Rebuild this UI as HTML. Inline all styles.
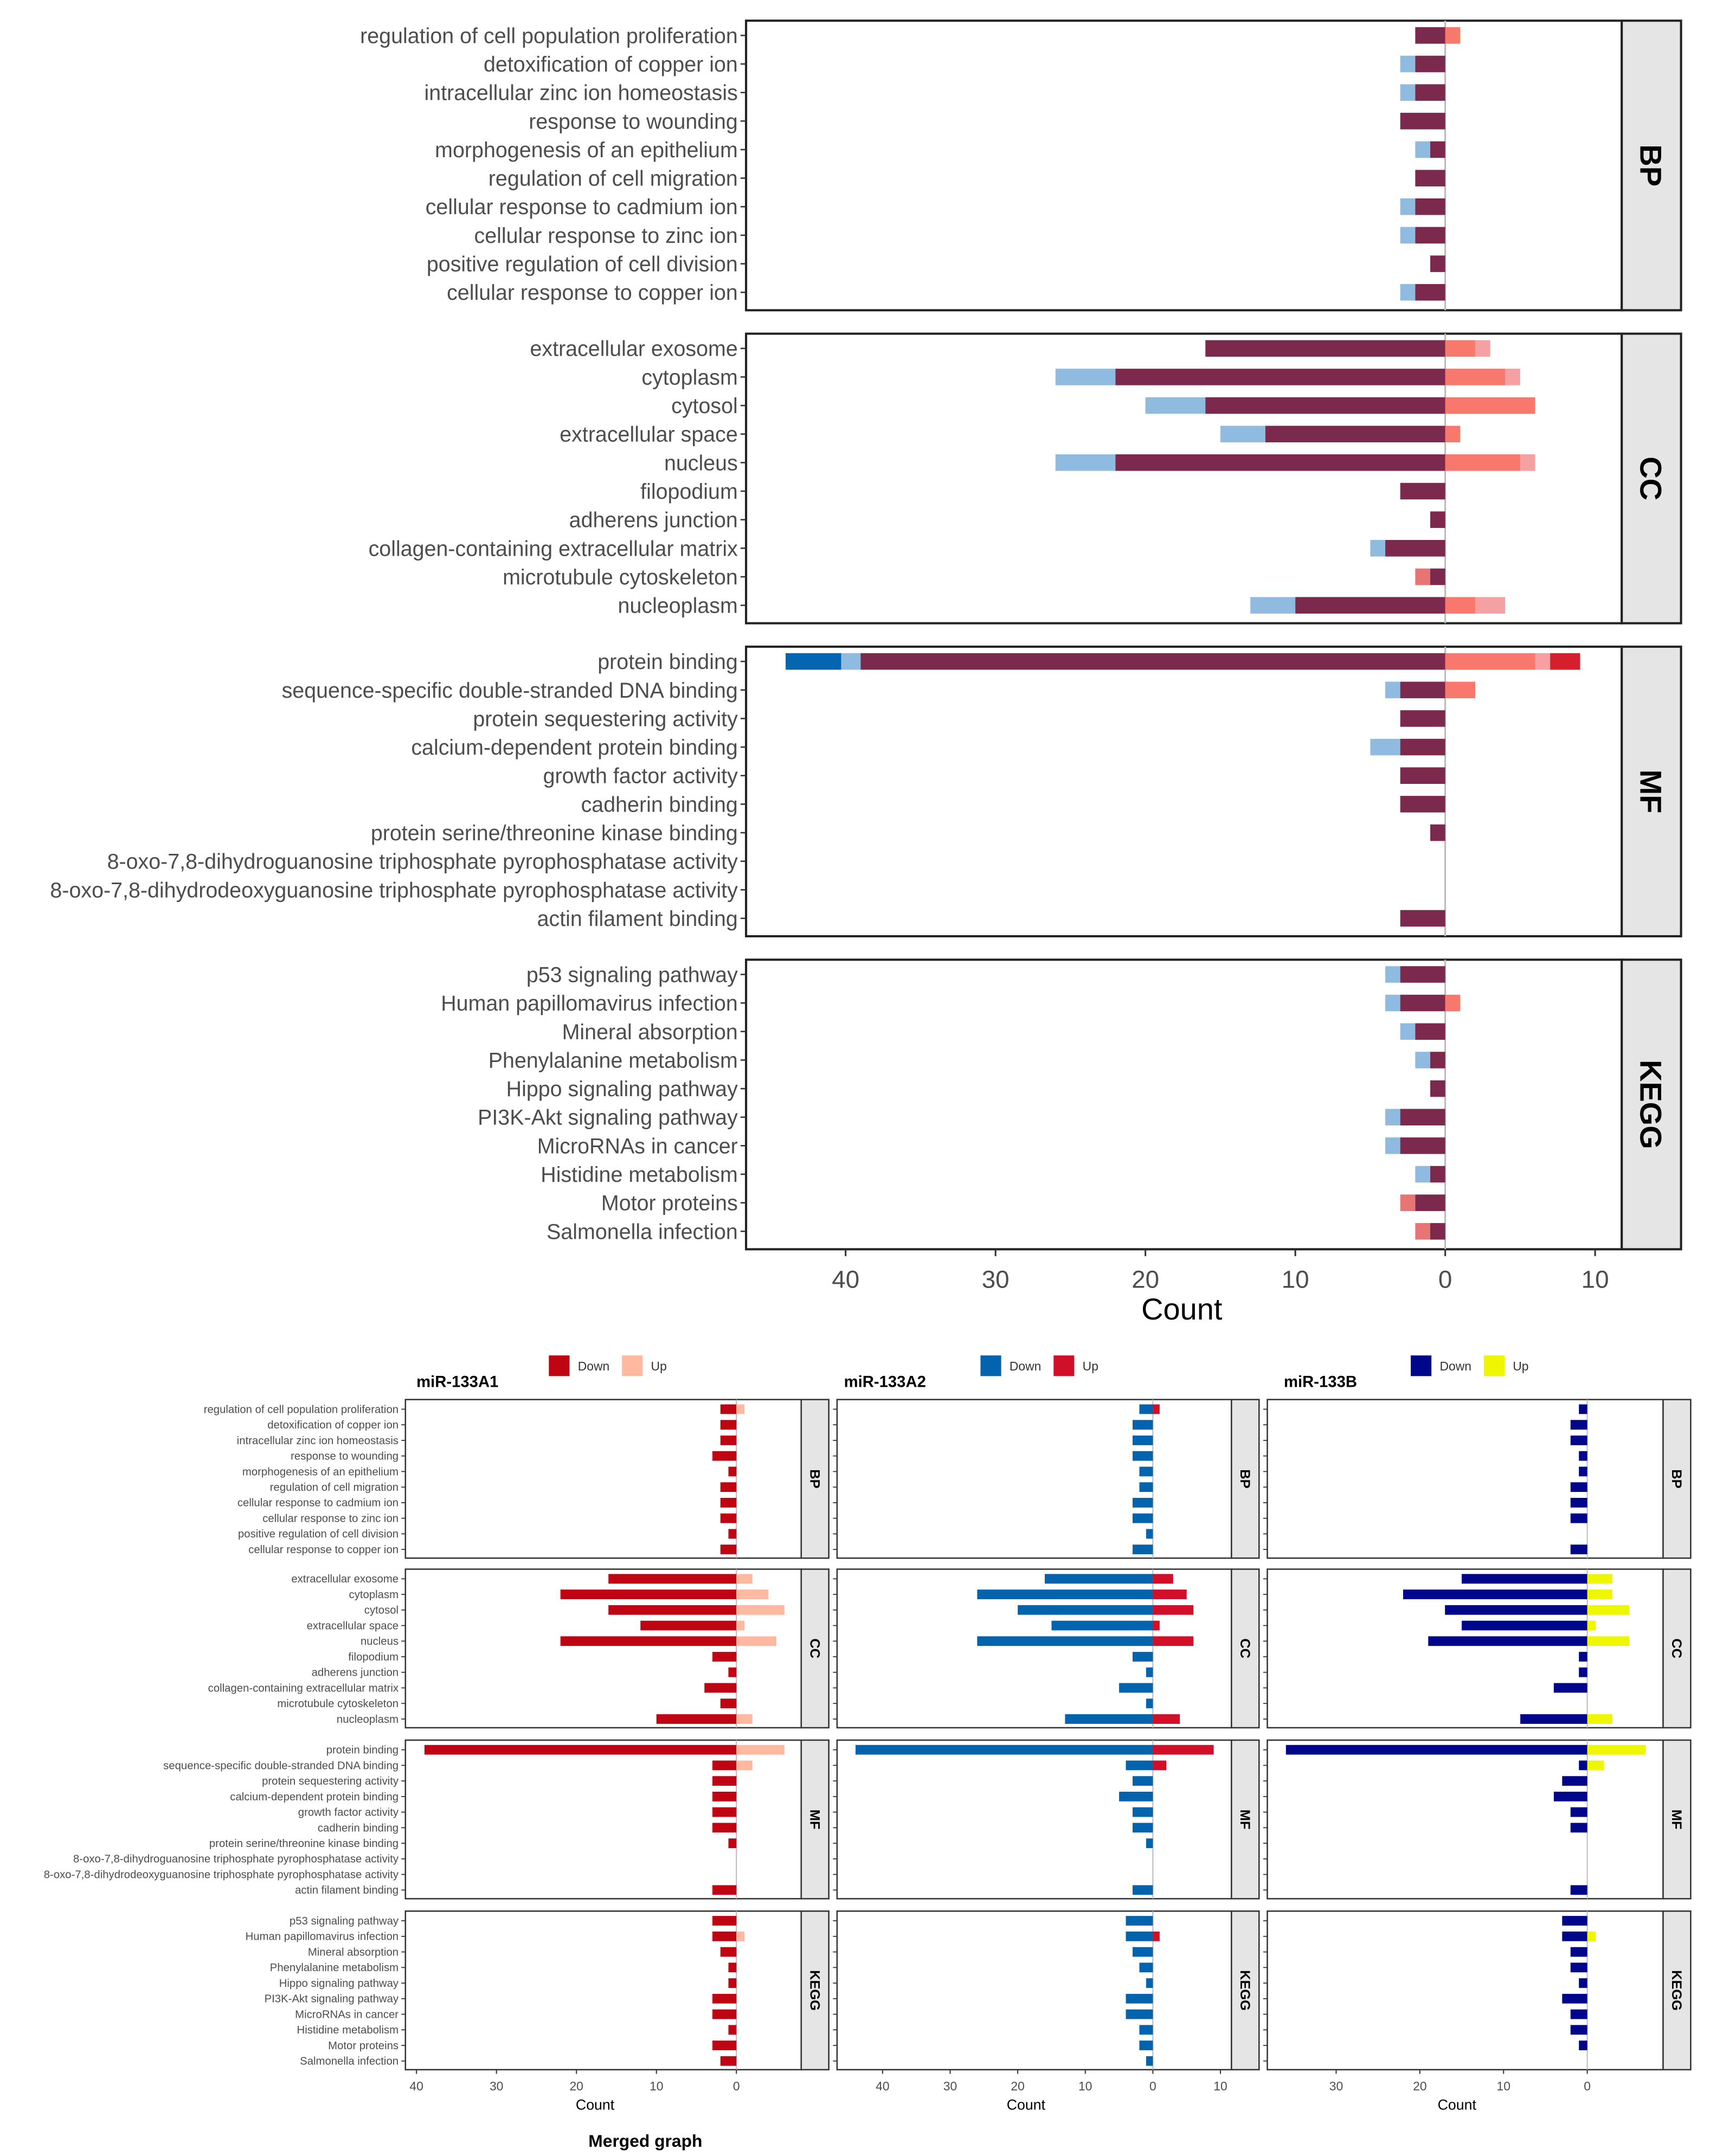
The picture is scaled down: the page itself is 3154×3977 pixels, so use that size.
<!DOCTYPE html>
<html><head><meta charset="utf-8"><style>html,body{margin:0;padding:0;background:#fff}svg{display:block}</style></head>
<body>
<svg id="chart" xmlns="http://www.w3.org/2000/svg" width="3154" height="3977" viewBox="0 0 1240 1563.6" preserveAspectRatio="none" font-family="Liberation Sans, sans-serif"></svg>
<script>
const groups = ["BP","CC","MF","KEGG"];
const categories = [
 "regulation of cell population proliferation","detoxification of copper ion","intracellular zinc ion homeostasis","response to wounding","morphogenesis of an epithelium","regulation of cell migration","cellular response to cadmium ion","cellular response to zinc ion","positive regulation of cell division","cellular response to copper ion",
 "extracellular exosome","cytoplasm","cytosol","extracellular space","nucleus","filopodium","adherens junction","collagen-containing extracellular matrix","microtubule cytoskeleton","nucleoplasm",
 "protein binding","sequence-specific double-stranded DNA binding","protein sequestering activity","calcium-dependent protein binding","growth factor activity","cadherin binding","protein serine/threonine kinase binding","8-oxo-7,8-dihydroguanosine triphosphate pyrophosphatase activity","8-oxo-7,8-dihydrodeoxyguanosine triphosphate pyrophosphatase activity","actin filament binding",
 "p53 signaling pathway","Human papillomavirus infection","Mineral absorption","Phenylalanine metabolism","Hippo signaling pathway","PI3K-Akt signaling pathway","MicroRNAs in cancer","Histidine metabolism","Motor proteins","Salmonella infection"];
const a1Down = [2,2,2,3,1,2,2,2,1,2, 16,22,16,12,22,3,1,4,2,10, 39,3,3,3,3,3,1,0,0,3, 3,3,2,1,1,3,3,1,3,2];
const a1Up   = [1,0,0,0,0,0,0,0,0,0, 2,4,6,1,5,0,0,0,0,2, 6,2,0,0,0,0,0,0,0,0, 0,1,0,0,0,0,0,0,0,0];
const a2Down = [2,3,3,3,2,2,3,3,1,3, 16,26,20,15,26,3,1,5,1,13, 44,4,3,5,3,3,1,0,0,3, 4,4,3,2,1,4,4,2,2,1];
const a2Up   = [1,0,0,0,0,0,0,0,0,0, 3,5,6,1,6,0,0,0,0,4, 9,2,0,0,0,0,0,0,0,0, 0,1,0,0,0,0,0,0,0,0];
const bDown  = [1,2,2,1,1,2,2,2,0,2, 15,22,17,15,19,1,1,4,0,8, 36,1,3,4,2,2,0,0,0,2, 3,3,2,2,1,3,2,2,1,0];
const bUp    = [0,0,0,0,0,0,0,0,0,0, 3,3,5,1,5,0,0,0,0,3, 7,2,0,0,0,0,0,0,0,0, 0,1,0,0,0,0,0,0,0,0];
const topTicks = [40,30,20,10,0,10];
const a1Ticks = [40,30,20,10,0];
const a2Ticks = [40,30,20,10,0,10];
const bTicks = [30,20,10,0];

const svg = document.getElementById('chart');
const NS = "http://www.w3.org/2000/svg";
function mk(tag, attrs, parent){const e=document.createElementNS(NS,tag);for(const k in attrs)e.setAttribute(k,attrs[k]);(parent||svg).appendChild(e);return e;}
function txt(s, attrs, parent){const e=mk('text',attrs,parent);e.textContent=s;return e;}

// ---------- TOP MERGED CHART ----------
const T = {left:541, right:1176, strip:1219, zero:1048, unit:10.87, panelTops:[15,242,469,696], panelH:210, barH:12};
const tx = v => T.zero - v*T.unit;
const txu = v => T.zero + v*T.unit;
groups.forEach((g,gi)=>{
  const top=T.panelTops[gi];
  const p=mk('rect',{x:T.left,y:top,width:T.right-T.left,height:T.panelH,fill:'#fff',stroke:'#222','stroke-width':1.6});
  
  
  mk('line',{x1:T.zero,x2:T.zero,y1:top,y2:top+T.panelH,stroke:'#bbb','stroke-width':1.2});
  const s=mk('rect',{x:T.right,y:top,width:T.strip-T.right,height:T.panelH,fill:'#e5e5e5',stroke:'#222','stroke-width':1.6});
  
  
  const st=txt(g,{x:0,y:0,'font-size':22,'font-weight':'bold','text-anchor':'middle',transform:`translate(${(T.right+T.strip)/2-8},${top+T.panelH/2}) rotate(90)`});
  
  
  for(let r=0;r<10;r++){
    const i=gi*10+r;
    const cy=top+10.7+r*20.7;
    const y=cy-T.barH/2;
    mk('line',{x1:T.left-4,x2:T.left,y1:cy,y2:cy,stroke:'#333','stroke-width':1});
    const lb=txt(categories[i],{x:T.left-6,y:cy+5.5,'font-size':15.5,fill:'#4d4d4d','text-anchor':'end'});
    
    
    const d1=a1Down[i], d2=a2Down[i], mn=Math.min(d1,d2);
    if(d2>mn){
      const e=mk('rect',{x:tx(d2),y,width:(d2-mn)*T.unit,height:T.barH,fill:'#8fbbe0'});
      
      
      if(d2-mn>4){
        const e2=mk('rect',{x:tx(d2),y,width:(d2-mn-1.3)*T.unit,height:T.barH,fill:'#0565b0'});
        
        
      }
    }
    if(d1>mn){const e=mk('rect',{x:tx(d1),y,width:(d1-mn)*T.unit,height:T.barH,fill:'#e87474'});
      
      }
    if(mn>0){const e=mk('rect',{x:tx(mn),y,width:mn*T.unit,height:T.barH,fill:'#7b2a4e'});
      
      }
    const u1=a1Up[i], u2=a2Up[i], umn=Math.min(u1,u2);
    if(u2>umn){
      const e=mk('rect',{x:txu(umn),y,width:(u2-umn)*T.unit,height:T.barH,fill:'#f5a0a3'});
      
      
      if(u2-umn>2){
        const e2=mk('rect',{x:txu(umn+1),y,width:(u2-umn-1)*T.unit,height:T.barH,fill:'#d61f2e'});
        
        
      }
    }
    if(u1>umn){const e=mk('rect',{x:txu(umn),y,width:(u1-umn)*T.unit,height:T.barH,fill:'#f6a0a0'});
      
      }
    if(umn>0){const e=mk('rect',{x:T.zero,y,width:umn*T.unit,height:T.barH,fill:'#f8786d'});
      
      }
  }
});
const tb=T.panelTops[3]+T.panelH;
topTicks.forEach((t,k)=>{
  const x = k===topTicks.length-1 ? txu(t) : tx(t);
  mk('line',{x1:x,x2:x,y1:tb,y2:tb+5,stroke:'#333','stroke-width':1.2});
  const e=txt(String(t),{x,y:tb+28,'font-size':18,fill:'#4d4d4d','text-anchor':'middle'});
  
  
});
const tc=txt('Count',{x:857,y:957,'font-size':22,'text-anchor':'middle'});



// ---------- BOTTOM SMALL MULTIPLES ----------
const panelTops=[1015,1138,1262,1386], PH=115;
const small=[
 {name:'miR-133A1',left:294,right:581,zero:534,unit:5.8,down:a1Down,up:a1Up,cd:'#c00512',cu:'#ffb9a0',ticks:a1Ticks,upTickIdx:-1,title:302,leg:398,labels:true},
 {name:'miR-133A2',left:607,right:893,zero:836,unit:4.9,down:a2Down,up:a2Up,cd:'#0363ad',cu:'#d10f28',ticks:a2Ticks,upTickIdx:5,title:612,leg:711,labels:false},
 {name:'miR-133B',left:919,right:1206,zero:1151,unit:6.07,down:bDown,up:bUp,cd:'#00068a',cu:'#eef700',ticks:bTicks,upTickIdx:-1,title:931,leg:1023,labels:false}
];
small.forEach(P=>{
  const id=P.name.toLowerCase();
  const ti=txt(P.name,{x:P.title,y:1006,'font-size':11.5,'font-weight':'bold'});
  
  
  const l1=mk('rect',{x:P.leg,y:983,width:15,height:15,fill:P.cd});
  
  
  const l1t=txt('Down',{x:P.leg+21,y:994,'font-size':9,fill:'#333'});
  
  
  const l2=mk('rect',{x:P.leg+53,y:983,width:15,height:15,fill:P.cu});
  
  
  const l2t=txt('Up',{x:P.leg+74,y:994,'font-size':9,fill:'#333'});
  
  
  const X=v=>P.zero-v*P.unit;
  groups.forEach((g,gi)=>{
    const top=panelTops[gi];
    const p=mk('rect',{x:P.left,y:top,width:P.right-P.left,height:PH,fill:'#fff',stroke:'#333','stroke-width':1});
    
    
    mk('line',{x1:P.zero,x2:P.zero,y1:top,y2:top+PH,stroke:'#bbb','stroke-width':0.8});
    const s=mk('rect',{x:P.right,y:top,width:20,height:PH,fill:'#e5e5e5',stroke:'#333','stroke-width':1});
    
    
    const st=txt(g,{x:0,y:0,'font-size':10,'font-weight':'bold','text-anchor':'middle',transform:`translate(${P.right+6.5},${top+PH/2}) rotate(90)`});
    
    
    for(let r=0;r<10;r++){
      const i=gi*10+r;
      const cy=top+7+r*11.3;
      mk('line',{x1:P.left-3,x2:P.left,y1:cy,y2:cy,stroke:'#333','stroke-width':0.7});
      if(P.labels){
        const lb=txt(categories[i],{x:P.left-5,y:cy+2.7,'font-size':8,fill:'#4d4d4d','text-anchor':'end'});
        
        
      }
      if(P.down[i]>0){const e=mk('rect',{x:X(P.down[i]),y:cy-3.5,width:P.down[i]*P.unit,height:7,fill:P.cd});
        
        }
      if(P.up[i]>0){const e=mk('rect',{x:P.zero,y:cy-3.5,width:P.up[i]*P.unit,height:7,fill:P.cu});
        
        }
    }
  });
  const bb=panelTops[3]+PH;
  P.ticks.forEach((t,k)=>{
    const x = k===P.upTickIdx ? P.zero+t*P.unit : X(t);
    mk('line',{x1:x,x2:x,y1:bb,y2:bb+3,stroke:'#333','stroke-width':0.8});
    const e=txt(String(t),{x,y:bb+15,'font-size':9,fill:'#4d4d4d','text-anchor':'middle'});
    
    
  });
  const c=txt('Count',{x:(P.left+P.right)/2-6,y:bb+29,'font-size':10.5,'text-anchor':'middle'});
  
  
});
const mg=txt('Merged graph',{x:468,y:1557,'font-size':12.5,'font-weight':'bold','text-anchor':'middle'});


</script>
</body></html>
